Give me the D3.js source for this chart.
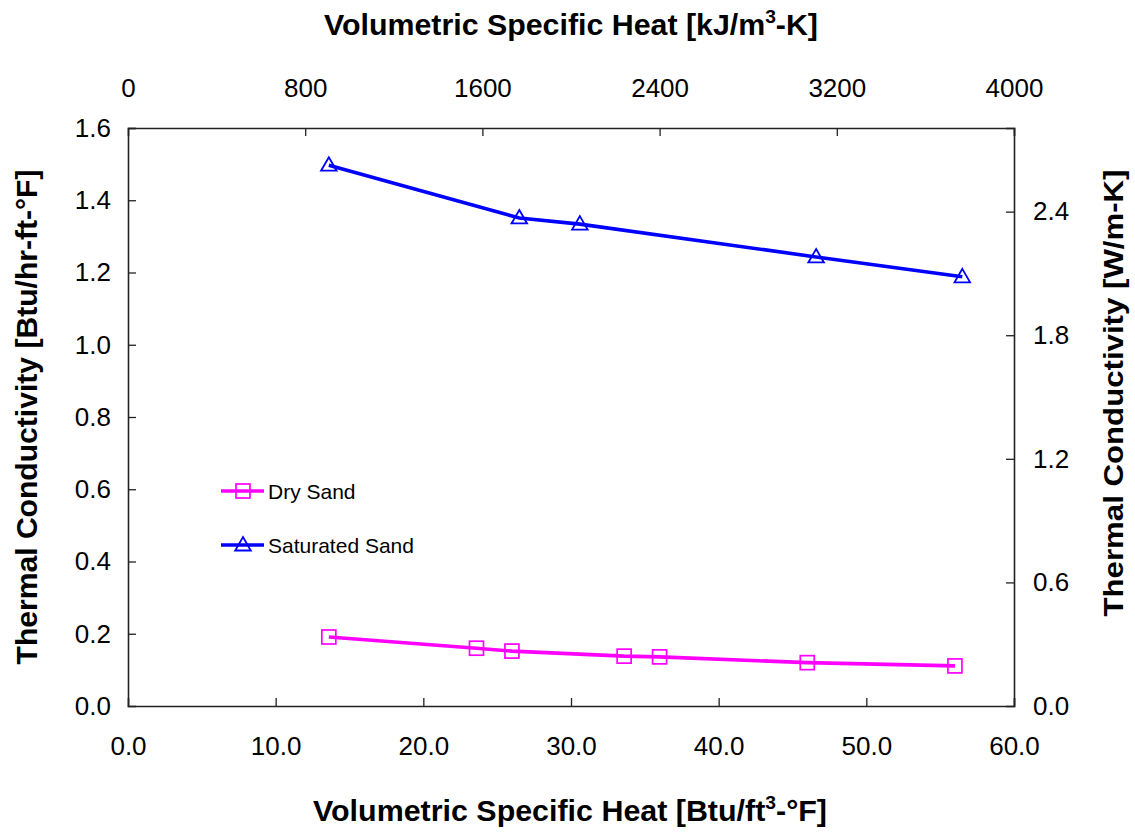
<!DOCTYPE html>
<html>
<head>
<meta charset="utf-8">
<script src="https://cdn.jsdelivr.net/npm/d3@7"></script>
<style>
  body { margin: 0; background: #fff; }
  svg text { font-family: "Liberation Sans", Arial, sans-serif; fill: #000; }
  .tick-label { font-size: 26px; }
  .axis-title { font-size: 30px; font-weight: bold; }
  .legend-text { font-size: 21px; }
</style>
</head>
<body>
<div id="chart"></div>
<script>
// Dry sand: volumetric specific heat [Btu/ft3-F] vs conductivity [Btu/hr-ft-F]
const drySandX = [13.6, 23.6, 26.0, 33.6, 36.0, 46.0, 56.0];
const drySandY = [0.191, 0.160, 0.152, 0.138, 0.136, 0.120, 0.111];

// Saturated sand
const satSandX = [13.6, 26.5, 30.6, 46.6, 56.5];
const satSandY = [1.497, 1.351, 1.334, 1.243, 1.188];

const bottomTicks = [0, 10, 20, 30, 40, 50, 60];
const topTicks = [0, 800, 1600, 2400, 3200, 4000];
const leftTicks = [0, 0.2, 0.4, 0.6, 0.8, 1.0, 1.2, 1.4, 1.6];
const rightTicks = [0, 0.6, 1.2, 1.8, 2.4];

const margin = { top: 128, right: 121, bottom: 128, left: 128 };
const width = 1135 - margin.left - margin.right;
const height = 834 - margin.top - margin.bottom;

const svg = d3.select("#chart").append("svg")
    .attr("width", 1135)
    .attr("height", 834);

const g = svg.append("g")
    .attr("transform", "translate(" + margin.left + "," + margin.top + ")");

// Scales
const x = d3.scaleLinear().domain([0, 60]).range([0, width]);
const xTop = d3.scaleLinear().domain([0, 4000]).range([0, width]);
const y = d3.scaleLinear().domain([0, 1.6]).range([height, 0]);
const yRight = d3.scaleLinear().domain([0, 2.806]).range([height, 0]);

// Axes (ticks point inward)
const tickLen = 8;
const xAxis = d3.axisBottom(x).tickValues(bottomTicks).tickSize(-tickLen).tickPadding(31).tickFormat(d3.format(".1f"));
const xTopAxis = d3.axisTop(xTop).tickValues(topTicks).tickSize(-tickLen).tickPadding(31).tickFormat(d3.format("d"));
const yAxis = d3.axisLeft(y).tickValues(leftTicks).tickSize(-tickLen).tickPadding(17).tickFormat(d3.format(".1f"));
const yRightAxis = d3.axisRight(yRight).tickValues(rightTicks).tickSize(-tickLen).tickPadding(19).tickFormat(d3.format(".1f"));

function styleAxis(sel) {
    sel.select(".domain").attr("stroke", "#222").attr("stroke-width", 1.6);
    sel.selectAll(".tick line").attr("stroke", "#222").attr("stroke-width", 1.3);
    sel.selectAll(".tick text")
        .attr("class", "tick-label")
        .attr("fill", "#000");
}

g.append("g").attr("transform", "translate(0," + height + ")").call(xAxis).call(styleAxis);
g.append("g").call(xTopAxis).call(styleAxis);
g.append("g").call(yAxis).call(styleAxis);
g.append("g").attr("transform", "translate(" + width + ",0)").call(yRightAxis).call(styleAxis);

// drop the 0 tick marks sitting on the corners
g.selectAll(".tick").filter(d => d === 0).select("line").remove();

// Axis titles
svg.append("text")
    .attr("class", "axis-title")
    .attr("x", 570)
    .attr("y", 821)
    .attr("text-anchor", "middle")
    .attr("textLength", 514)
    .attr("lengthAdjust", "spacingAndGlyphs")
    .html('Volumetric Specific Heat [Btu/ft<tspan dy="-12" font-size="19">3</tspan><tspan dy="12">-°F]</tspan>');

svg.append("text")
    .attr("class", "axis-title")
    .attr("x", 571)
    .attr("y", 35)
    .attr("text-anchor", "middle")
    .attr("textLength", 494)
    .attr("lengthAdjust", "spacingAndGlyphs")
    .html('Volumetric Specific Heat [kJ/m<tspan dy="-12" font-size="19">3</tspan><tspan dy="12">-K]</tspan>');

svg.append("text")
    .attr("class", "axis-title")
    .attr("transform", "translate(37,417) rotate(-90)")
    .attr("text-anchor", "middle")
    .attr("textLength", 495)
    .attr("lengthAdjust", "spacingAndGlyphs")
    .text("Thermal Conductivity [Btu/hr-ft-°F]");

svg.append("text")
    .attr("class", "axis-title")
    .attr("transform", "translate(1123,393) rotate(-90)")
    .attr("text-anchor", "middle")
    .attr("font-size", 28)
    .style("font-size", "28px")
    .attr("textLength", 447)
    .attr("lengthAdjust", "spacingAndGlyphs")
    .text("Thermal Conductivity [W/m-K]");

// Series
const drySand = drySandX.map((v, i) => ({ x: v, y: drySandY[i] }));
const satSand = satSandX.map((v, i) => ({ x: v, y: satSandY[i] }));

const line = d3.line()
    .x(d => x(d.x))
    .y(d => y(d.y));

const magenta = "#ff00ff";
const blue = "#0000ff";

g.append("path")
    .datum(drySand)
    .attr("d", line)
    .attr("fill", "none")
    .attr("stroke", magenta)
    .attr("stroke-width", 3.6);

g.append("path")
    .datum(satSand)
    .attr("d", line)
    .attr("fill", "none")
    .attr("stroke", blue)
    .attr("stroke-width", 3.6);

const sq = 14;
g.selectAll(".dry-marker")
    .data(drySand)
    .enter()
    .append("rect")
    .attr("class", "dry-marker")
    .attr("x", d => x(d.x) - sq / 2)
    .attr("y", d => y(d.y) - sq / 2)
    .attr("width", sq)
    .attr("height", sq)
    .attr("fill", "none")
    .attr("stroke", magenta)
    .attr("stroke-width", 1.7);

const tri = d3.symbol().type(d3.symbolTriangle).size(105);
g.selectAll(".sat-marker")
    .data(satSand)
    .enter()
    .append("path")
    .attr("class", "sat-marker")
    .attr("d", tri)
    .attr("transform", d => "translate(" + x(d.x) + "," + (y(d.y) + 1) + ")")
    .attr("fill", "none")
    .attr("stroke", blue)
    .attr("stroke-width", 1.8);

// Legend
const legend = svg.append("g");
const legendItems = [
    { name: "Dry Sand", color: magenta, marker: "square", y: 491 },
    { name: "Saturated Sand", color: blue, marker: "triangle", y: 545 }
];

legendItems.forEach(item => {
    legend.append("line")
        .attr("x1", 221).attr("x2", 264)
        .attr("y1", item.y).attr("y2", item.y)
        .attr("stroke", item.color)
        .attr("stroke-width", 3.6);
    if (item.marker === "square") {
        legend.append("rect")
            .attr("x", 243 - sq / 2).attr("y", item.y - sq / 2)
            .attr("width", sq).attr("height", sq)
            .attr("fill", "none").attr("stroke", item.color).attr("stroke-width", 1.7);
    } else {
        legend.append("path")
            .attr("d", tri)
            .attr("transform", "translate(" + 243 + "," + (item.y + 1) + ")")
            .attr("fill", "none").attr("stroke", item.color).attr("stroke-width", 1.8);
    }
    legend.append("text")
        .attr("class", "legend-text")
        .attr("x", 268)
        .attr("y", item.y + 8)
        .text(item.name);
});
</script>
</body>
</html>
